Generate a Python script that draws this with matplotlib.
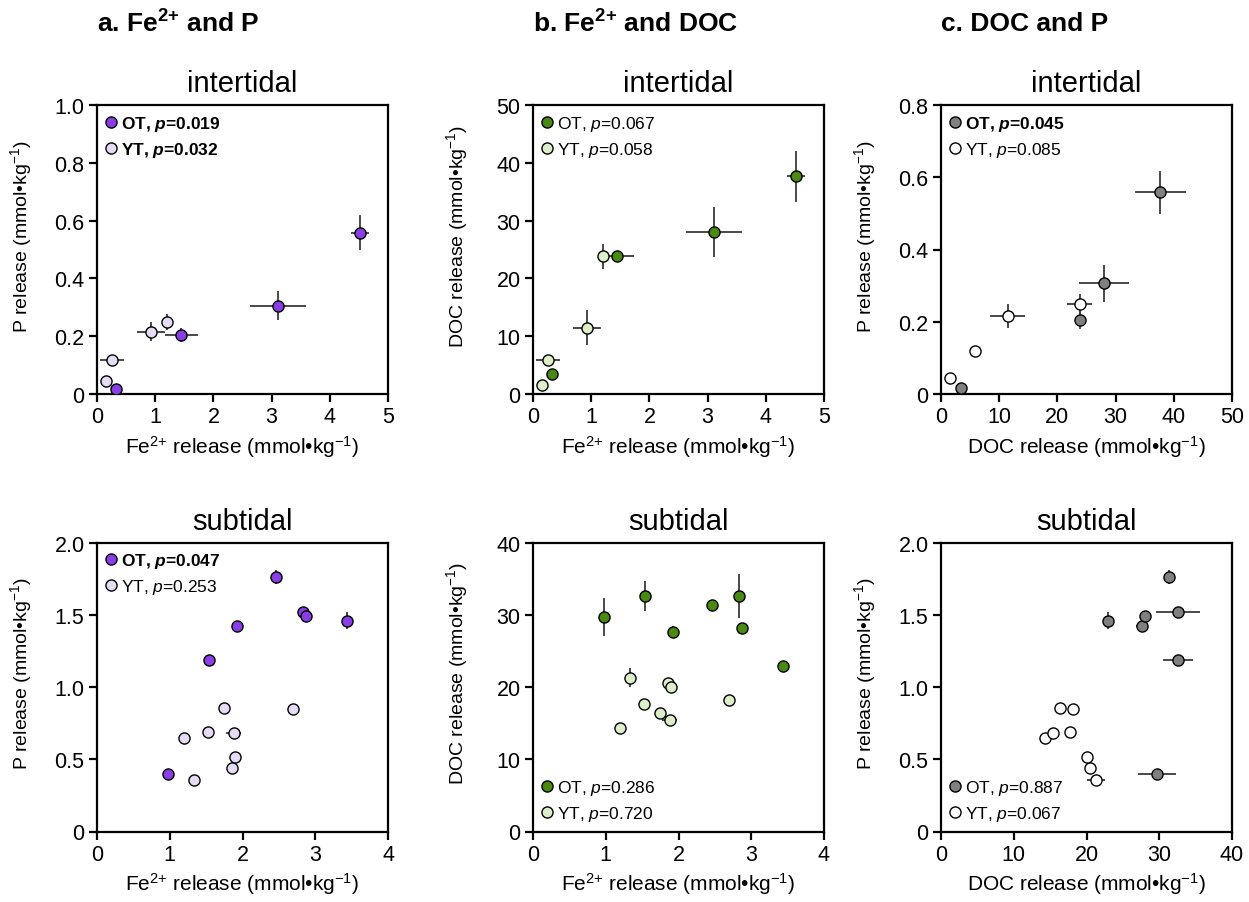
import matplotlib
matplotlib.use('Agg')
import matplotlib.pyplot as plt
from matplotlib.lines import Line2D

plt.rcParams['font.family'] = ['Liberation Sans', 'DejaVu Sans']
plt.rcParams['mathtext.fontset'] = 'custom'
plt.rcParams['mathtext.rm'] = 'Liberation Sans'
plt.rcParams['mathtext.it'] = 'Liberation Sans:italic'
plt.rcParams['mathtext.bf'] = 'Liberation Sans:bold'
plt.rcParams['mathtext.bfit'] = 'Liberation Sans:italic:bold'

# intertidal, old tidal flat (OT)
it_fe_ot = [0.33, 1.45, 3.11, 4.52]
it_doc_ot = [3.4, 23.9, 28.0, 37.7]
it_p_ot = [0.016, 0.205, 0.306, 0.558]
it_fe_ot_err = [0.03, 0.28, 0.48, 0.15]
it_doc_ot_err = [0.3, 0.4, 4.3, 4.4]
it_p_ot_err = [0.005, 0.025, 0.05, 0.06]

# intertidal, young tidal flat (YT)
it_fe_yt = [0.15, 0.26, 0.93, 1.20]
it_doc_yt = [1.55, 5.8, 11.5, 23.8]
it_p_yt = [0.045, 0.119, 0.216, 0.250]
it_fe_yt_err = [0.02, 0.21, 0.24, 0.05]
it_doc_yt_err = [0.2, 0.3, 3.0, 2.2]
it_p_yt_err = [0.005, 0.005, 0.034, 0.028]

# subtidal, OT
sub_fe_ot = [0.97, 1.54, 1.92, 2.46, 2.83, 2.87, 3.43]
sub_doc_ot = [29.7, 32.6, 27.6, 31.3, 32.6, 28.1, 22.9]
sub_p_ot = [0.40, 1.19, 1.42, 1.76, 1.52, 1.49, 1.46]
sub_fe_ot_err = [0.03, 0.02, 0.03, 0.03, 0.03, 0.03, 0.03]
sub_doc_ot_err = [2.6, 2.1, 0.8, 0.4, 3.0, 0.3, 0.4]
sub_p_ot_err = [0.01, 0.01, 0.01, 0.05, 0.015, 0.015, 0.06]

# subtidal, YT
sub_fe_yt = [1.19, 1.34, 1.53, 1.75, 1.86, 1.88, 1.90, 2.70]
sub_doc_yt = [14.3, 21.3, 17.7, 16.4, 20.5, 15.4, 20.0, 18.2]
sub_p_yt = [0.645, 0.357, 0.690, 0.854, 0.438, 0.684, 0.519, 0.848]
sub_fe_yt_err = [0.02, 0.02, 0.02, 0.02, 0.03, 0.1, 0.03, 0.02]
sub_doc_yt_err = [0.2, 1.3, 0.3, 0.3, 0.3, 0.3, 0.3, 0.2]
sub_p_yt_err = [0.01, 0.01, 0.01, 0.01, 0.01, 0.01, 0.01, 0.01]

# p-values shown in legends (text, bold?)
p_labels = {
    ('a', 'it'): [('0.019', True), ('0.032', True)],
    ('b', 'it'): [('0.067', False), ('0.058', False)],
    ('c', 'it'): [('0.045', True), ('0.085', False)],
    ('a', 'sub'): [('0.047', True), ('0.253', False)],
    ('b', 'sub'): [('0.286', False), ('0.720', False)],
    ('c', 'sub'): [('0.887', False), ('0.067', False)],
}

colors = {
    'a': ('#8a3ee6', '#e6dcf6'),
    'b': ('#4b8a12', '#ddeecb'),
    'c': ('#808080', '#ffffff'),
}

fe_lab = r'Fe$^{2{+}}$ release (mmol•kg$^{-1}$)'
doc_lab = r'DOC release (mmol•kg$^{-1}$)'
p_lab = r'P release (mmol•kg$^{-1}$)'


def legend_label(group, p, bold):
    if bold:
        return r'%s, $\mathbfit{p}$=%s' % (group, p)
    return r'%s, $\mathit{p}$=%s' % (group, p)


def draw_panel(ax, x_ot, y_ot, xe_ot, ye_ot, x_yt, y_yt, xe_yt, ye_yt,
               cols, labels, loc):
    for x, y, xe, ye, c in [(x_yt, y_yt, xe_yt, ye_yt, cols[1]),
                            (x_ot, y_ot, xe_ot, ye_ot, cols[0])]:
        ax.errorbar(x, y, xerr=xe, yerr=ye, fmt='none', ecolor='#3a3a3a',
                    elinewidth=1.3, capsize=0, zorder=2)
        ax.plot(x, y, 'o', ms=8, mfc=c, mec='black', mew=1.0, zorder=3,
                linestyle='none')
    handles = [Line2D([], [], marker='o', ls='none', ms=8, mfc=cols[0], mec='black', mew=1.0),
               Line2D([], [], marker='o', ls='none', ms=8, mfc=cols[1], mec='black', mew=1.0)]
    texts = [legend_label('OT', labels[0][0], labels[0][1]),
             legend_label('YT', labels[1][0], labels[1][1])]
    leg = ax.legend(handles, texts, loc=loc, frameon=False, fontsize=12.5,
                    handlelength=0.6, handletextpad=0.3, labelspacing=0.4,
                    borderaxespad=0.3, borderpad=0.2)
    for t, (_, bold) in zip(leg.get_texts(), labels):
        if bold:
            t.set_fontweight('bold')
    for s in ax.spines.values():
        s.set_linewidth(1.6)
    ax.tick_params(direction='out', length=6, width=1.6, labelsize=15.5,
                   top=False, right=False, pad=3)


fig = plt.figure(figsize=(12.49, 9.03), dpi=100)
lefts = {'a': 97 / 1249, 'b': 533 / 1249, 'c': 941 / 1249}
w = 291 / 1249
h = 289 / 903
bot_top = 1 - 395 / 903
bot_sub = 1 - 832.5 / 903

axes = {}
for key in 'abc':
    axes[(key, 'it')] = fig.add_axes([lefts[key], bot_top, w, h])
    axes[(key, 'sub')] = fig.add_axes([lefts[key], bot_sub, w, h])

# a. Fe vs P
ax = axes[('a', 'it')]
draw_panel(ax, it_fe_ot, it_p_ot, it_fe_ot_err, it_p_ot_err,
           it_fe_yt, it_p_yt, it_fe_yt_err, it_p_yt_err,
           colors['a'], p_labels[('a', 'it')], 'upper left')
ax.set_xlim(0, 5)
ax.set_xticks(range(0, 6))
ax.set_ylim(0, 1.0)
ax.set_yticks([0, 0.2, 0.4, 0.6, 0.8, 1.0], ['0', '0.2', '0.4', '0.6', '0.8', '1.0'])

ax = axes[('a', 'sub')]
draw_panel(ax, sub_fe_ot, sub_p_ot, sub_fe_ot_err, sub_p_ot_err,
           sub_fe_yt, sub_p_yt, sub_fe_yt_err, sub_p_yt_err,
           colors['a'], p_labels[('a', 'sub')], 'upper left')
ax.set_xlim(0, 4)
ax.set_xticks(range(0, 5))
ax.set_ylim(0, 2.0)
ax.set_yticks([0, 0.5, 1.0, 1.5, 2.0], ['0', '0.5', '1.0', '1.5', '2.0'])

# b. Fe vs DOC
ax = axes[('b', 'it')]
draw_panel(ax, it_fe_ot, it_doc_ot, it_fe_ot_err, it_doc_ot_err,
           it_fe_yt, it_doc_yt, it_fe_yt_err, it_doc_yt_err,
           colors['b'], p_labels[('b', 'it')], 'upper left')
ax.set_xlim(0, 5)
ax.set_xticks(range(0, 6))
ax.set_ylim(0, 50)
ax.set_yticks(range(0, 51, 10))

ax = axes[('b', 'sub')]
draw_panel(ax, sub_fe_ot, sub_doc_ot, sub_fe_ot_err, sub_doc_ot_err,
           sub_fe_yt, sub_doc_yt, sub_fe_yt_err, sub_doc_yt_err,
           colors['b'], p_labels[('b', 'sub')], 'lower left')
ax.set_xlim(0, 4)
ax.set_xticks(range(0, 5))
ax.set_ylim(0, 40)
ax.set_yticks(range(0, 41, 10))

# c. DOC vs P
ax = axes[('c', 'it')]
draw_panel(ax, it_doc_ot, it_p_ot, it_doc_ot_err, it_p_ot_err,
           it_doc_yt, it_p_yt, it_doc_yt_err, it_p_yt_err,
           colors['c'], p_labels[('c', 'it')], 'upper left')
ax.set_xlim(0, 50)
ax.set_xticks(range(0, 51, 10))
ax.set_ylim(0, 0.8)
ax.set_yticks([0, 0.2, 0.4, 0.6, 0.8], ['0', '0.2', '0.4', '0.6', '0.8'])

ax = axes[('c', 'sub')]
draw_panel(ax, sub_doc_ot, sub_p_ot, sub_doc_ot_err, sub_p_ot_err,
           sub_doc_yt, sub_p_yt, sub_doc_yt_err, sub_p_yt_err,
           colors['c'], p_labels[('c', 'sub')], 'lower left')
ax.set_xlim(0, 40)
ax.set_xticks(range(0, 41, 10))
ax.set_ylim(0, 2.0)
ax.set_yticks([0, 0.5, 1.0, 1.5, 2.0], ['0', '0.5', '1.0', '1.5', '2.0'])

xlabels = {'a': fe_lab, 'b': fe_lab, 'c': doc_lab}
ylabels = {'a': p_lab, 'b': doc_lab, 'c': p_lab}
for key in 'abc':
    for row, title in [('it', 'intertidal'), ('sub', 'subtidal')]:
        ax = axes[(key, row)]
        ax.set_title(title, fontsize=21, pad=10)
        ax.set_xlabel(xlabels[key], fontsize=15, labelpad=4)
        ax.set_ylabel(ylabels[key], fontsize=14)
        ax.yaxis.set_label_coords(-0.215, 0.55)

fig.text(97 / 1249, 1 - 24 / 903, r'a. Fe$^{\mathbf{2{+}}}$ and P', fontsize=19,
         fontweight='bold', va='center', ha='left')
fig.text(533 / 1249, 1 - 24 / 903, r'b. Fe$^{\mathbf{2{+}}}$ and DOC', fontsize=19,
         fontweight='bold', va='center', ha='left')
fig.text(941 / 1249, 1 - 24 / 903, 'c. DOC and P', fontsize=19,
         fontweight='bold', va='center', ha='left')

fig.savefig('out.png', dpi=100)
